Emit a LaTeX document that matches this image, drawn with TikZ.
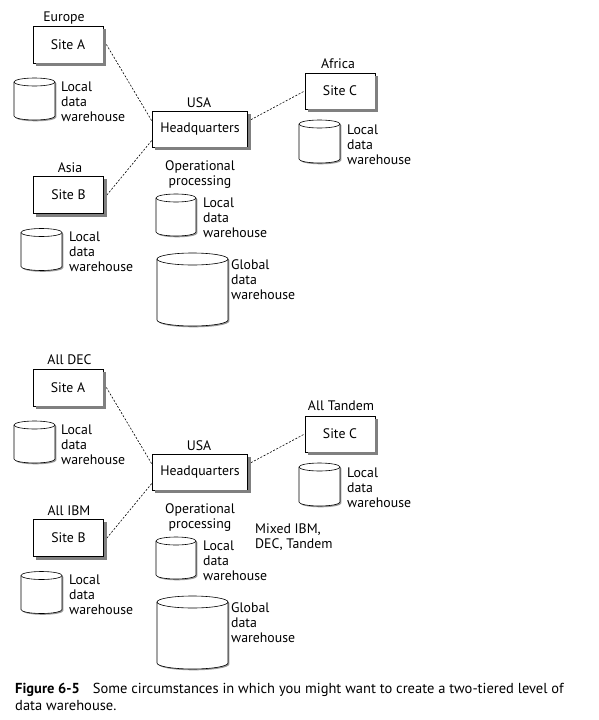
\documentclass[tikz,border=0pt]{standalone}
\usepackage{fontspec}
\setmainfont{PT Sans}
\usetikzlibrary{calc}

\tikzset{
    site/.style={draw, line width=0.8pt, fill=white, minimum width=70pt, minimum height=37pt},
    store/.style={draw, line width=0.6pt, fill=white},
    place/.style={anchor=base, inner sep=0pt},
    note/.style={anchor=base west, align=left, inner sep=0pt},
    link/.style={line width=0.6pt, dash pattern=on 2pt off 1.6pt},
    boxshade/.style={fill=black!50},
    storeshade/.style={fill=black!40},
}

% data warehouse drum: name, centre x, centre y, width, height, rim radius
\newcommand{\datastore}[6]{%
    \begin{scope}[shift={(#2,#3)}]
        \coordinate (#1) at (0,0);
        \fill[storeshade] (-#4/2+1.3,-#5/2+#6+1.3) -- (-#4/2+1.3,#5/2-#6+1.3)
            arc[start angle=180, end angle=360, x radius=#4*0.5pt, y radius=#6*1pt]
            -- (#4/2+1.3,-#5/2+#6+1.3)
            arc[start angle=0, end angle=180, x radius=#4*0.5pt, y radius=#6*1pt] -- cycle;
        \draw[store] (-#4/2,-#5/2+#6) -- (-#4/2,#5/2-#6)
            arc[start angle=180, end angle=360, x radius=#4*0.5pt, y radius=#6*1pt]
            -- (#4/2,-#5/2+#6)
            arc[start angle=0, end angle=180, x radius=#4*0.5pt, y radius=#6*1pt] -- cycle;
        \draw[store, fill=none] (-#4/2,-#5/2+#6)
            arc[start angle=180, end angle=360, x radius=#4*0.5pt, y radius=#6*1pt];
    \end{scope}}

\begin{document}
\begin{tikzpicture}[x=1pt, y=-1pt, font=\fontsize{13.8}{15}\selectfont]
    \useasboundingbox (0,0) rectangle (599,720);

    % Upper picture: sites by continent
    \node[place] (europe) at (64,21.5) {Europe};
    \node[site] (siteA) at (68,44.5) {Site A};
    \datastore{storeA}{34.5}{99}{41}{42}{4}
    \node[note] (noteA) at (61,121.5) {Local\\data\\warehouse};

    \node[place] (asia) at (70,172) {Asia};
    \node[site] (siteB) at (68.5,195) {Site B};
    \datastore{storeB}{41.5}{249.5}{41}{42}{4}
    \node[note] (noteB) at (69,271) {Local\\data\\warehouse};

    \node[place] (africa) at (338,68) {Africa};
    \node[site, minimum height=36pt] (siteC) at (340,91) {Site C};
    \datastore{storeC}{319.5}{141.5}{41}{43}{4}
    \node[note] (noteC) at (347,164) {Local\\data\\warehouse};

    \node[place] (usa) at (199,107) {USA};
    \node[site, minimum width=95pt, minimum height=36pt] (hq) at (200,129) {Headquarters};
    \node[place, align=center] (oper) at (200,185) {Operational\\processing};
    \datastore{storeH}{176}{215}{40}{42}{4}
    \node[note] (noteH) at (203,237) {Local\\data\\warehouse};
    \datastore{global}{192.5}{289.5}{71}{73}{6}
    \node[note] (noteG) at (231,299) {Global\\data\\warehouse};

    \draw[link] ([xshift=3pt]siteA.east) -- (hq.171);
    \draw[link] ([xshift=3pt]siteB.east) -- (hq.193);
    \draw[link] ([xshift=3pt]hq.11) -- (siteC.west);

    % Lower picture: sites by platform
    \begin{scope}[shift={(0,343)}]
        \node[place] (dec) at (69.5,21) {All DEC};
        \node[site] (siteA2) at (68,44.5) {Site A};
        \datastore{storeA2}{34.5}{99}{41}{42}{4}
        \node[note] (noteA2) at (61,121.5) {Local\\data\\warehouse};

        \node[place] (ibm) at (69,172) {All IBM};
        \node[site] (siteB2) at (68.5,195) {Site B};
        \datastore{storeB2}{41.5}{249.5}{41}{42}{4}
        \node[note] (noteB2) at (69,271) {Local\\data\\warehouse};

        \node[place] (tandem) at (341,67) {All Tandem};
        \node[site, minimum height=36pt] (siteC2) at (340,91) {Site C};
        \datastore{storeC2}{319.5}{141.5}{41}{43}{4}
        \node[note] (noteC2) at (347,164) {Local\\data\\warehouse};

        \node[place] (usa2) at (199,107) {USA};
        \node[site, minimum width=95pt, minimum height=36pt] (hq2) at (200,129) {Headquarters};
        \node[place, align=center] (oper2) at (200,185) {Operational\\processing};
        \node[note] (mixed) at (255,205) {Mixed IBM,\\DEC, Tandem};
        \datastore{storeH2}{176}{215}{40}{42}{4}
        \node[note] (noteH2) at (203,237) {Local\\data\\warehouse};
        \datastore{global2}{192.5}{289.5}{71}{73}{6}
        \node[note] (noteG2) at (231,299) {Global\\data\\warehouse};

        \draw[link] ([xshift=3pt]siteA2.east) -- (hq2.171);
        \draw[link] ([xshift=3pt]siteB2.east) -- (hq2.193);
        \draw[link] ([xshift=3pt]hq2.11) -- (siteC2.west);
    \end{scope}

    % Shadows of the boxes, right and bottom
    \foreach \n in {siteA,siteB,siteC,hq,siteA2,siteB2,siteC2,hq2} {
        \fill[boxshade] (\n.north east) ++(0pt,-3pt) rectangle ([xshift=3pt,yshift=-3pt]\n.south east);
        \fill[boxshade] (\n.south west) ++(3pt,0pt) rectangle ([xshift=3pt,yshift=-3pt]\n.south east);
    }

    % Caption
    \node[anchor=base west, align=left, inner sep=0pt, font=\fontsize{14.5}{17}\selectfont] (caption) at (15,710)
        {\textbf{Figure 6-5}\hspace{0.9em}Some circumstances in which you might want to create a two-tiered level of\\data warehouse.};
\end{tikzpicture}
\end{document}
